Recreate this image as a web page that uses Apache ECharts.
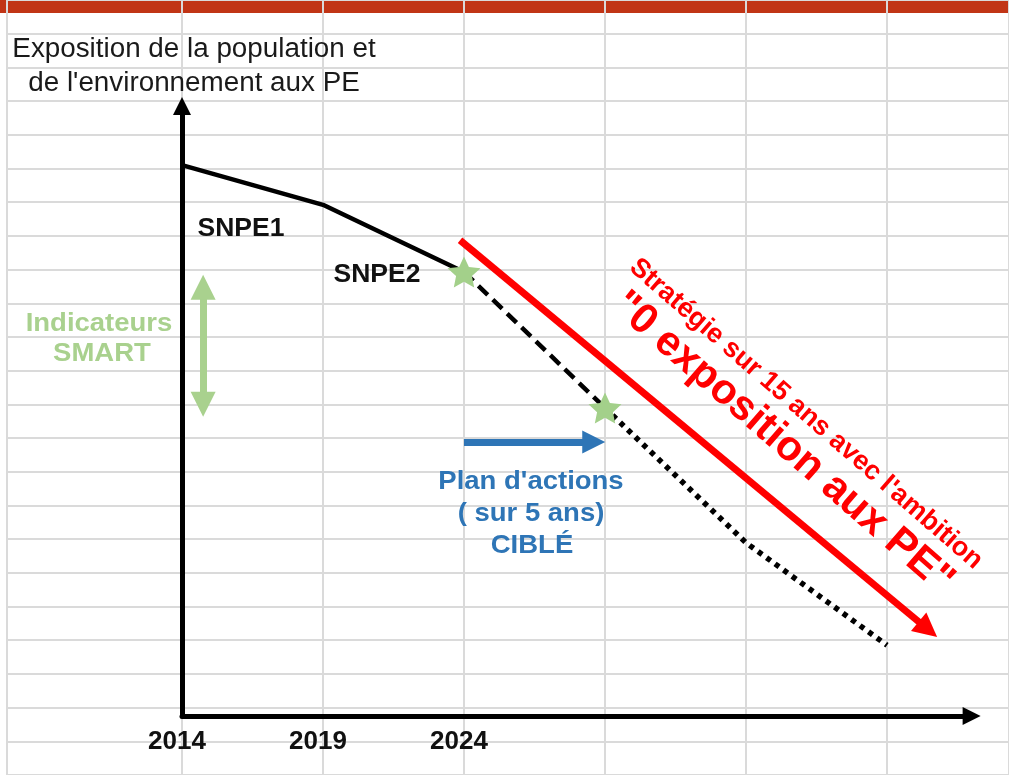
<!DOCTYPE html>
<html>
<head>
<meta charset="utf-8">
<script src="https://cdn.jsdelivr.net/npm/echarts@6/dist/echarts.min.js"></script>
<style>
html,body{margin:0;padding:0;background:#fff;}
#chart{width:1009px;height:775px;}
</style>
</head>
<body>
<div id="chart"></div>
<script>
// ---- data ----
const snpeYears = [2014, 2019, 2024];
const snpeValues = [90.3, 83.8, 72.8];
const planYears = [2024, 2029];
const planValues = [72.8, 50.5];
const trendYears = [2029, 2034, 2039];
const trendValues = [50.5, 28.4, 11.6];
const milestoneYears = [2024, 2029];
const milestoneValues = [72.8, 50.5];
const tickLabels = ['2014', '2019', '2024'];
const strategyArrow = [[2023.86, 78.0], [2040.45, 14.2]];
const actionArrow = [[2024.0, 44.9], [2028.6, 44.9]];
const smartArrow = [[2014.75, 70.3], [2014.75, 51.1]];

const zip = (xs, ys) => xs.map((x, i) => [x, ys[i]]);
const FONT = '"Liberation Sans", Arial, sans-serif';
const STAR = 'path://M50,0 L64.11,30.58 L97.55,34.55 L72.83,57.42 L79.39,90.45 L50,74 L20.61,90.45 L27.17,57.42 L2.45,34.55 L35.89,30.58 Z';
const GRIDLINE = '#dadada';
const deg = d => d * Math.PI / 180;

function txt(text, x, y, size, weight, color, opts) {
  return Object.assign({
    type: 'text', x: x, y: y, z: 100,
    style: { text: text, fill: color, fontSize: size, fontWeight: weight, fontFamily: FONT, align: 'center', verticalAlign: 'middle' }
  }, opts || {});
}

const chart = echarts.init(document.getElementById('chart'), null, { renderer: 'canvas' });
chart.setOption({
  animation: false,
  backgroundColor: '#ffffff',
  grid: [
    { left: 182, top: 106, width: 789.6, height: 610 },
    { left: 182, right: 0, top: 0, bottom: 0 },
    { left: 7, right: 0, top: -1.1, height: 784.3 }
  ],
  xAxis: [
    { gridIndex: 0, type: 'value', min: 2014, max: 2042, interval: 5,
      axisLine: { show: true, onZero: false, symbol: ['none', 'triangle'], symbolSize: [18, 18], lineStyle: { color: '#000', width: 5 } },
      axisTick: { show: false }, splitLine: { show: false },
      axisLabel: { show: true, margin: 13, padding: [0, 10, 0, 0], color: '#111', fontSize: 26, fontWeight: 'bold', fontFamily: FONT,
        formatter: v => tickLabels.includes(String(Math.round(v))) ? String(Math.round(v)) : '' } },
    { gridIndex: 1, type: 'value', min: 2014, max: 2043.33, interval: 5,
      axisLine: { show: false }, axisTick: { show: false }, axisLabel: { show: false },
      splitLine: { show: true, lineStyle: { color: GRIDLINE, width: 2 } } },
    { gridIndex: 2, type: 'value', min: 0, max: 1, show: false }
  ],
  yAxis: [
    { gridIndex: 0, type: 'value', min: 0, max: 100,
      axisLine: { show: true, onZero: false, symbol: ['none', 'triangle'], symbolSize: [18, 18], lineStyle: { color: '#000', width: 5 } },
      axisTick: { show: false }, axisLabel: { show: false }, splitLine: { show: false } },
    { gridIndex: 1, type: 'value', min: 0, max: 1, show: false },
    { gridIndex: 2, type: 'value', min: 0, max: 23, interval: 1, inverse: true,
      axisLine: { show: true, onZero: false, lineStyle: { color: GRIDLINE, width: 2 } },
      axisTick: { show: false }, axisLabel: { show: false },
      splitLine: { show: true, lineStyle: { color: GRIDLINE, width: 2 } } }
  ],
  graphic: [
    { type: 'rect', z: -1, shape: { x: 0, y: 0, width: 1009, height: 13 }, style: { fill: '#c13516' } },
    txt('Exposition de la population et', 194, 50, 27, 'normal', '#1a1a1a', { scaleX: 1.03 }),
    txt("de l'environnement aux PE", 194, 84, 27, 'normal', '#1a1a1a', { scaleX: 1.03 }),
    txt('SNPE1', 241, 229, 25, 'bold', '#111', { scaleX: 1.06 }),
    txt('SNPE2', 377, 275, 25, 'bold', '#111', { scaleX: 1.06 }),
    txt('Indicateurs', 99, 324, 25, 'bold', '#a9d18e', { scaleX: 1.1 }),
    txt('SMART', 102, 354, 25, 'bold', '#a9d18e', { scaleX: 1.1 }),
    txt("Plan d'actions", 531, 482, 25, 'bold', '#2e75b6', { scaleX: 1.1 }),
    txt('( sur 5 ans)', 531, 514, 25, 'bold', '#2e75b6', { scaleX: 1.1 }),
    txt('CIBLÉ', 532, 546, 25, 'bold', '#2e75b6', { scaleX: 1.1 }),
    txt("Stratégie sur 15 ans avec l'ambition", 806, 414, 27, 'bold', '#ff0000', { rotation: -deg(41) }),
    txt('"0 exposition aux PE"', 783, 443, 42, 'bold', '#ff0000', { rotation: -deg(41) })
  ],
  series: [
    { type: 'scatter', xAxisIndex: 1, yAxisIndex: 1, data: [], silent: true },
    { type: 'scatter', xAxisIndex: 2, yAxisIndex: 2, data: [], silent: true },
    { name: 'SNPE', type: 'line', xAxisIndex: 0, yAxisIndex: 0, data: zip(snpeYears, snpeValues),
      showSymbol: false, symbol: 'none', lineStyle: { color: '#000', width: 4.5 }, z: 3 },
    { name: 'Plan', type: 'line', xAxisIndex: 0, yAxisIndex: 0, data: zip(planYears, planValues),
      showSymbol: false, symbol: 'none', lineStyle: { color: '#000', width: 4.5, type: [13, 7] }, z: 3 },
    { name: 'Tendance', type: 'line', xAxisIndex: 0, yAxisIndex: 0, data: zip(trendYears, trendValues),
      showSymbol: false, symbol: 'none', lineStyle: { color: '#000', width: 5.5, type: [5, 5.5], cap: 'butt' }, z: 3 },
    { name: 'Stratégie', type: 'lines', coordinateSystem: 'cartesian2d', xAxisIndex: 0, yAxisIndex: 0,
      symbol: ['none', 'triangle'], symbolSize: [28, 24],
      lineStyle: { color: '#ff0000', width: 7, opacity: 1, curveness: 0 },
      data: [{ coords: strategyArrow }], z: 4 },
    { name: 'Actions', type: 'lines', coordinateSystem: 'cartesian2d', xAxisIndex: 0, yAxisIndex: 0,
      symbol: ['none', 'triangle'], symbolSize: [23, 23],
      lineStyle: { color: '#2e75b6', width: 7, opacity: 1, curveness: 0 },
      data: [{ coords: actionArrow }], z: 4 },
    { name: 'SMART', type: 'lines', coordinateSystem: 'cartesian2d', xAxisIndex: 0, yAxisIndex: 0,
      symbol: ['triangle', 'triangle'], symbolSize: [25, 25],
      lineStyle: { color: '#a9d18e', width: 7, opacity: 1, curveness: 0 },
      data: [{ coords: smartArrow }], z: 4 },
    { name: 'Jalons', type: 'scatter', xAxisIndex: 0, yAxisIndex: 0, data: zip(milestoneYears, milestoneValues),
      symbol: STAR, symbolSize: [33, 31], symbolKeepAspect: false,
      itemStyle: { color: '#a3d08a', opacity: 1 }, z: 5 }
  ]
});
</script>
</body>
</html>
